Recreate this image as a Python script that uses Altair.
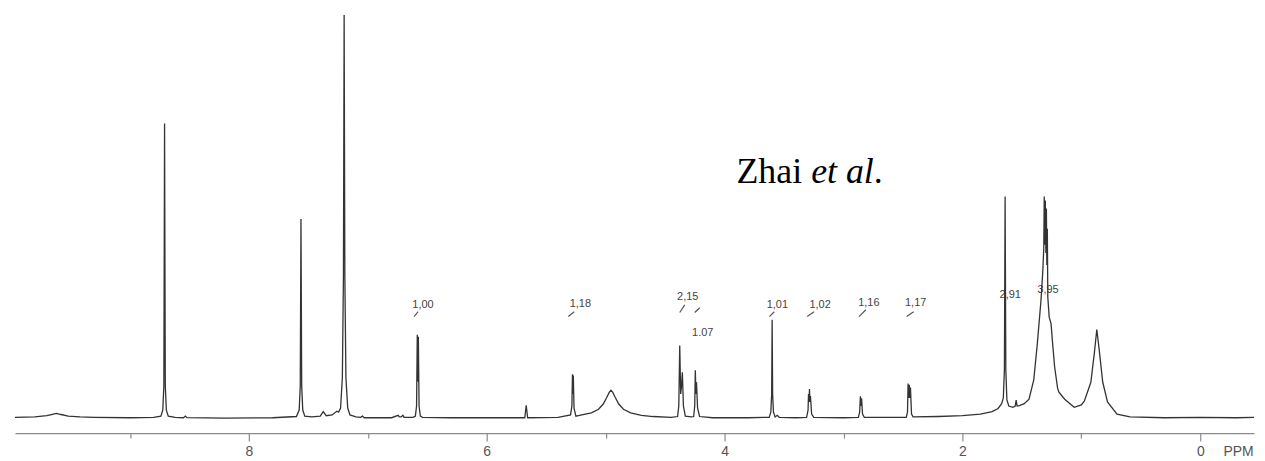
import altair as alt
import pandas as pd

# ---- spectrum trace (chemical shift in ppm, relative intensity) ----
ppm = [
    9.967, 9.80, 9.70, 9.66, 9.62, 9.58, 9.52, 9.42, 9.30, 9.00,
    8.80, 8.74, 8.724, 8.715, 8.709, 8.703, 8.694, 8.678, 8.62,
    8.55, 8.535, 8.52, 8.20, 7.80,
    7.60, 7.577, 7.568, 7.562, 7.556, 7.547, 7.53, 7.47,
    7.40, 7.375, 7.35, 7.30, 7.26, 7.245, 7.229, 7.214, 7.205, 7.199, 7.193, 7.184, 7.169, 7.15, 7.10,
    7.06, 7.045, 7.03, 6.80, 6.745, 6.735, 6.72, 6.705, 6.695, 6.62,
    6.600, 6.590, 6.584, 6.5795, 6.575, 6.569, 6.558, 6.54, 6.30, 5.80,
    5.68, 5.668, 5.656, 5.40, 5.295, 5.284, 5.279, 5.2755, 5.272, 5.266, 5.25,
    5.20, 5.12, 5.06, 5.02, 4.99, 4.97, 4.955, 4.94, 4.92, 4.89, 4.85, 4.79, 4.70, 4.60, 4.45,
    4.395, 4.385, 4.377, 4.369, 4.362, 4.355, 4.346, 4.33, 4.28,
    4.260, 4.251, 4.246, 4.241, 4.236, 4.227, 4.21, 4.10, 3.80,
    3.625, 3.611, 3.604, 3.600, 3.596, 3.589, 3.575, 3.557, 3.54, 3.40,
    3.31, 3.298, 3.294, 3.290, 3.286, 3.282, 3.278, 3.268, 3.25, 3.00,
    2.875, 2.864, 2.858, 2.853, 2.848, 2.840, 2.825, 2.60,
    2.472, 2.462, 2.457, 2.452, 2.447, 2.442, 2.437, 2.428, 2.415, 2.20,
    2.00, 1.85, 1.75, 1.70, 1.67, 1.656, 1.647, 1.641, 1.635, 1.626, 1.61,
    1.575, 1.556, 1.548, 1.540, 1.52, 1.48, 1.44, 1.40, 1.37, 1.34, 1.325,
    1.316, 1.312, 1.308, 1.303, 1.298, 1.294, 1.290, 1.286, 1.282,
    1.27, 1.255, 1.24, 1.225, 1.20, 1.19, 1.14, 1.08, 1.06, 1.00, 0.975, 0.92,
    0.89, 0.87, 0.85, 0.82, 0.78, 0.70, 0.59, 0.30, 0.00, -0.30, -0.452,
]
intensity = [
    0.2, 0.3, 0.6, 0.9, 1.2, 0.9, 0.5, 0.3, 0.2, 0.1,
    0.2, 0.5, 2.0, 8.0, 73.1, 8.0, 2.0, 0.5, 0.2,
    0.1, 0.5, 0.1, 0.0, 0.1,
    0.4, 2.0, 8.0, 49.4, 8.0, 2.0, 0.5, 0.3,
    0.5, 1.6, 0.6, 0.8, 1.7, 1.5, 2.5, 10.0, 35.0, 100.0, 35.0, 10.0, 2.5, 0.8, 0.3,
    0.2, 0.5, 0.1, 0.1, 0.7, 0.3, 0.3, 0.7, 0.2, 0.2,
    0.5, 3.0, 20.7, 9.0, 20.2, 3.0, 0.5, 0.2, 0.1, 0.1,
    0.1, 3.2, 0.1, 0.2, 0.8, 3.0, 10.9, 6.0, 10.6, 2.5, 0.5,
    0.8, 1.3, 2.2, 3.5, 5.2, 6.4, 6.9, 6.4, 5.2, 3.5, 2.2, 1.3, 0.7, 0.4, 0.2,
    0.4, 3.0, 18.0, 6.0, 8.0, 11.4, 3.0, 0.5, 0.3,
    0.4, 3.0, 11.9, 6.0, 8.9, 2.5, 0.4, 0.1, 0.1,
    0.2, 1.5, 6.0, 24.4, 6.0, 1.5, 0.3, 0.7, 0.2, 0.1,
    0.2, 2.0, 6.0, 4.0, 7.2, 4.0, 5.5, 1.0, 0.2, 0.1,
    0.2, 1.5, 5.4, 3.0, 4.9, 1.0, 0.2, 0.2,
    0.2, 1.5, 8.6, 5.0, 8.3, 5.0, 7.6, 1.0, 0.3, 0.4,
    0.6, 1.0, 1.6, 2.4, 3.6, 5.0, 12.0, 55.0, 12.0, 4.5, 3.0,
    2.7, 3.0, 4.5, 3.0, 3.1, 3.6, 4.7, 9.5, 18.5, 29.0, 36.0,
    42.0, 55.0, 43.0, 54.0, 41.0, 52.0, 38.0, 47.0, 30.0,
    25.0, 23.5, 18.0, 12.8, 7.5, 6.5, 4.7, 3.2, 2.7, 3.3, 4.2, 8.9,
    16.3, 22.0, 17.0, 8.9, 4.0, 1.0, 0.3, 0.1, 0.2, 0.1, 0.2,
]

# ---- integral labels ----
integral_text = ["1,00", "1,18", "2,15", "1.07", "1,01", "1,02", "1,16", "1,17", "2,91", "3,95"]
integral_ppm = [6.536, 5.213, 4.310, 4.184, 3.556, 3.197, 2.787, 2.393, 1.598, 1.280]
integral_level = [28.1, 28.4, 30.1, 21.2, 28.1, 28.1, 28.6, 28.6, 30.6, 31.9]

# small integral curve strokes
curve_ppm_start = [6.611, 5.314, 4.377, 4.251, 3.623, 3.305, 2.870, 2.469]
curve_ppm_end = [6.577, 5.264, 4.335, 4.209, 3.582, 3.247, 2.812, 2.410]
curve_level_start = [25.2, 25.2, 26.2, 26.2, 25.2, 25.2, 25.2, 25.2]
curve_level_end = [26.4, 26.4, 28.1, 27.4, 26.4, 26.4, 26.9, 26.4]

# axis ticks
tick_values = [9.5, 9.0, 8.5, 8.0, 7.5, 7.0, 6.5, 6.0, 5.5, 5.0, 4.5, 4.0,
               3.5, 3.0, 2.5, 2.0, 1.5, 1.0, 0.5, 0.0]

# annotation
credit_parts = ["Zhai", "et al", "."]
credit_ppm = [3.90, 3.272, 2.745]
credit_level = [58.3, 58.3, 58.3]
credit_style = ["normal", "italic", "normal"]

spec = pd.DataFrame({"ppm": ppm, "I": intensity})
labels = pd.DataFrame({"ppm": integral_ppm, "I": integral_level, "t": integral_text})
curves = pd.DataFrame({"ppm": curve_ppm_start, "ppm2": curve_ppm_end,
                       "I": curve_level_start, "I2": curve_level_end})
credit = pd.DataFrame({"ppm": credit_ppm, "I": credit_level, "t": credit_parts,
                       "s": credit_style})

xscale = alt.Scale(domain=[-0.452, 9.967], reverse=True, nice=False, zero=False)
yscale = alt.Scale(domain=[-3.7, 101.5], nice=False, zero=False)

xaxis = alt.Axis(
    values=tick_values,
    format="d",
    labelExpr="datum.value % 2 === 0 ? datum.label : ''",
    grid=False,
    domainColor="#8a8a8a",
    domainWidth=1.2,
    tickColor="#8a8a8a",
    tickWidth=1.2,
    tickSize={"condition": {"test": "datum.value % 2 === 0", "value": 8}, "value": 5},
    labelColor="#555555",
    labelFont="Liberation Sans",
    labelFontSize=14,
    labelPadding=4,
    title="PPM",
    titleFont="Liberation Sans",
    titleFontSize=14,
    titleFontWeight="normal",
    titleColor="#555555",
    titleX=1229,
    titleY=19,
    titleAlign="center",
    titleBaseline="middle",
)

line = alt.Chart(spec).mark_line(color="#333333", strokeWidth=1.3).encode(
    x=alt.X("ppm:Q", scale=xscale, axis=xaxis),
    y=alt.Y("I:Q", scale=yscale, axis=None),
)

label_marks = alt.Chart(labels).mark_text(
    font="Liberation Sans", fontSize=11, color="#444444", baseline="middle", align="center"
).encode(
    x=alt.X("ppm:Q", scale=xscale),
    y=alt.Y("I:Q", scale=yscale, axis=None),
    text="t:N",
)

curve_marks = alt.Chart(curves).mark_rule(color="#555555", strokeWidth=1.2).encode(
    x=alt.X("ppm:Q", scale=xscale),
    x2="ppm2:Q",
    y=alt.Y("I:Q", scale=yscale, axis=None),
    y2="I2:Q",
)

credit_normal = alt.Chart(credit).transform_filter("datum.s === 'normal'").mark_text(
    font="Liberation Serif", fontSize=36, color="#000000", align="left", baseline="alphabetic"
).encode(
    x=alt.X("ppm:Q", scale=xscale),
    y=alt.Y("I:Q", scale=yscale, axis=None),
    text="t:N",
)
credit_italic = alt.Chart(credit).transform_filter("datum.s === 'italic'").mark_text(
    font="Liberation Serif", fontSize=36, fontStyle="italic", color="#000000",
    align="left", baseline="alphabetic"
).encode(
    x=alt.X("ppm:Q", scale=xscale),
    y=alt.Y("I:Q", scale=yscale, axis=None),
    text="t:N",
)

chart = alt.layer(label_marks, curve_marks, line, credit_normal, credit_italic).properties(
    width=1245,
    height=426,
    padding={"left": 4, "top": 0, "right": 0, "bottom": 0},
    background="white",
).configure_view(stroke=None)

chart.save("out.html", embed_options={"renderer": "svg", "actions": False})
